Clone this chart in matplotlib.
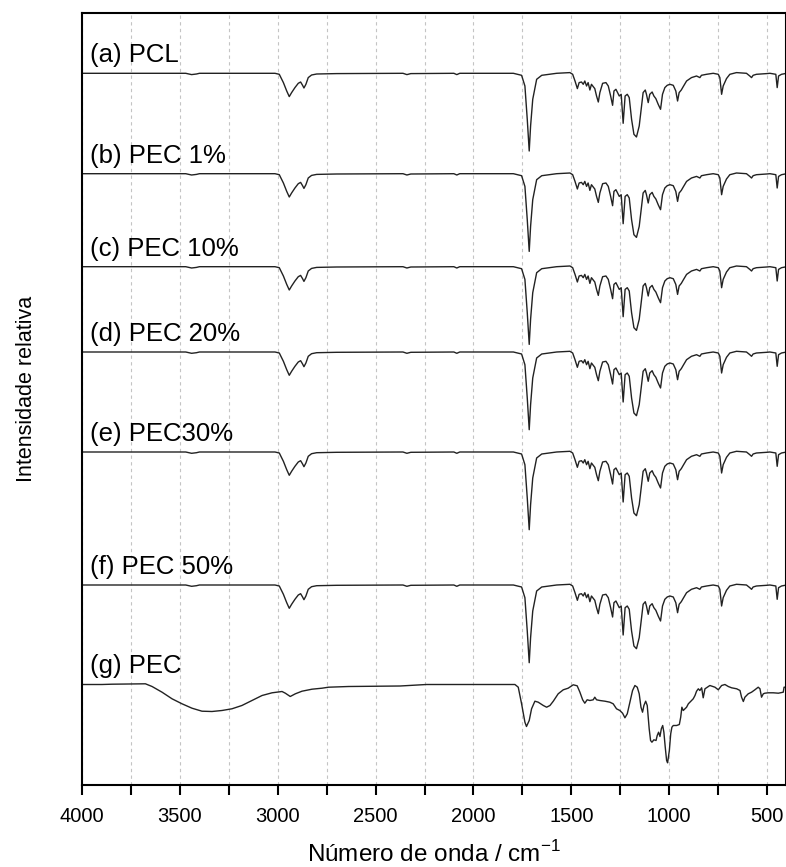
import matplotlib.pyplot as plt
from matplotlib.ticker import MultipleLocator

plt.rcParams['font.family'] = ['Liberation Sans', 'DejaVu Sans']
plt.rcParams['mathtext.fontset'] = 'custom'
plt.rcParams['mathtext.rm'] = 'Liberation Sans'

# PCL spectrum: wavenumber (cm-1) and band depth (relative units)
pcl_wn = [4000, 3470, 3440, 3415, 3400, 3014, 2992, 2971, 2954, 2941, 2929, 2912,
          2895, 2883, 2873, 2866, 2856, 2844, 2827, 2801, 2699, 2360, 2340, 2320,
          2100, 2085, 2070, 1967, 1796, 1754, 1737, 1725, 1715, 1708, 1697, 1677,
          1651, 1575, 1507, 1493, 1481, 1469, 1460, 1448, 1439, 1431, 1422, 1414,
          1405, 1397, 1388, 1380, 1371, 1362, 1354, 1340, 1323, 1311, 1299, 1289,
          1282, 1272, 1265, 1255, 1245, 1235, 1225, 1214, 1204, 1192, 1180, 1167,
          1153, 1141, 1133, 1122, 1116, 1107, 1099, 1087, 1078, 1068, 1056, 1044,
          1034, 1022, 1010, 996, 979, 966, 957, 949, 938, 928, 911, 886, 860, 843,
          835, 809, 775, 749, 741, 732, 724, 707, 690, 656, 605, 588, 579, 571,
          554, 502, 485, 455, 448, 441, 426, 400]
pcl_depth = [0, 0, 1.3, 0.7, 0, 0, 1, 9.3, 17.7, 23.3, 19.3, 14.3,
             10, 8.7, 12, 14.7, 11, 4.3, 1.7, 0.7, 0.3, 0, 1.3, 0.3,
             0, 1.3, 0, 0, 0, 2, 12.7, 46, 77.7, 52.7, 26, 6,
             2, 0, -0.7, 1, 7.7, 15.3, 9.3, 8.7, 11, 7.7, 12.7, 9.3,
             16.7, 11, 13.3, 15.3, 22.7, 28.7, 19.3, 10, 9.3, 12.7, 22.7, 32,
             17.7, 16, 18.7, 22.7, 21, 50, 22.7, 21, 24.3, 46, 61, 63.7,
             52.7, 32.7, 19.3, 16.7, 21, 29.3, 21, 18.7, 22.7, 25.3, 31, 36,
             21, 14.3, 12, 11, 12, 17.7, 27.7, 19.3, 16.7, 13.3, 7.7, 4.3, 2.7, 4.3,
             2, 1, 0, 1, 4.3, 21, 12.7, 5.3, 1, -0.7, 0, 2.7, 4.3, 2,
             1, 0.3, 0, 1, 14.3, 2.7, 1, 0]

# PEC spectrum
pec_wn = [4000, 3898, 3847, 3676, 3642, 3591, 3540, 3489, 3438, 3387, 3336, 3285,
          3234, 3183, 3131, 3080, 3029, 2978, 2961, 2936, 2910, 2876, 2825, 2774,
          2740, 2638, 2467, 2375, 2240, 2030, 1788, 1771, 1754, 1737, 1729, 1715,
          1703, 1686, 1669, 1643, 1626, 1609, 1592, 1567, 1541, 1516, 1490, 1470,
          1456, 1442, 1431, 1419, 1405, 1388, 1380, 1371, 1354, 1328, 1303, 1286,
          1269, 1252, 1238, 1226, 1214, 1201, 1187, 1175, 1163, 1153, 1144, 1136,
          1129, 1120, 1112, 1107, 1102, 1095, 1088, 1078, 1067, 1061, 1054, 1047,
          1040, 1033, 1027, 1020, 1013, 1008, 999, 992, 986, 979, 962, 948,
          941, 935, 928, 919, 911, 902, 894, 885, 877, 868, 860, 851,
          843, 834, 826, 817, 805, 792, 766, 749, 732, 715, 698, 681,
          655, 638, 630, 621, 613, 596, 579, 562, 545, 536, 528, 519,
          511, 494, 468, 442, 417, 413, 400]
pec_depth = [0, 0, -0.3, -0.7, 2, 7.7, 14.3, 19.3, 23.7, 26.7, 27, 26,
             24.3, 21, 16, 11, 8.3, 7, 8.7, 12, 9.3, 6.7, 4.7, 3.7,
             2.7, 2, 1.7, 1.5, 0, 0, 0, 2.7, 19.3, 37.7, 42, 36,
             24.3, 16.7, 17.7, 21, 22.7, 21, 16.7, 9.3, 5.3, 3.7, 0.3, 1.3,
             7.7, 15.3, 18.7, 15.3, 16, 15.3, 12.7, 15.3, 16, 16.7, 17.7, 19.3,
             24.3, 26, 28.7, 33.3, 29.3, 18, 6, 1, 2.7, 9.3, 22.7, 27.7,
             21, 16.7, 21, 32.7, 44.3, 56, 57.7, 55.3, 56, 51, 47.7, 52,
             44.3, 41, 47.7, 62.7, 76, 78.3, 66, 49.3, 42.7, 41, 41, 40,
             32.7, 22.7, 26, 24.3, 22.7, 19.3, 17.7, 16, 14.3, 11, 6.7, 4.3,
             6, 3.3, 13.3, 4.3, 2.7, 1, 2.7, 5.3, 1, 0, 2, 3.3,
             4.3, 6, 12.7, 17, 12.7, 9.3, 7.7, 5.3, 2.7, 4.3, 12.7, 9.3,
             8.7, 8.3, 8.3, 8.7, 7.7, 2.7, 2.7]

labels = ['(a) PCL', '(b) PEC 1%', '(c) PEC 10%', '(d) PEC 20%',
          '(e) PEC30%', '(f) PEC 50%', '(g) PEC']
offsets = [711.7, 611.3, 518.3, 433, 333, 200, 100.5]
spectra = [(pcl_wn, pcl_depth)] * 6 + [(pec_wn, pec_depth)]

fig = plt.figure(figsize=(7.86, 8.67), dpi=100)
ax = fig.add_axes([82 / 786, 1 - 785 / 867, 704 / 786, 772 / 867])

for (wn, depth), off, lab in zip(spectra, offsets, labels):
    ax.plot(wn, [off - d for d in depth], color='#222222', lw=1.0)
    ax.text(3958, off + 11, lab, fontsize=18.5, va='baseline', ha='left')

ax.set_xlim(4000, 403)
ax.set_ylim(0, 772)
ax.set_xticks(range(4000, 399, -500))
ax.xaxis.set_minor_locator(MultipleLocator(250))
ax.grid(axis='x', which='both', linestyle=(0, (3, 3)), color='#c4c4c4', lw=0.8)
ax.set_yticks([])
ax.tick_params(axis='x', which='both', direction='out', length=7, width=1.5,
               labelsize=14.5, pad=9)
for s in ax.spines.values():
    s.set_linewidth(1.5)

ax.set_xlabel('Número de onda / cm$^{-1}$', fontsize=17.5, labelpad=11)
ax.set_ylabel('Intensidade relativa', fontsize=15.5)
ax.yaxis.set_label_coords(-0.064, 0.513)

fig.savefig('out.png', dpi=100)
